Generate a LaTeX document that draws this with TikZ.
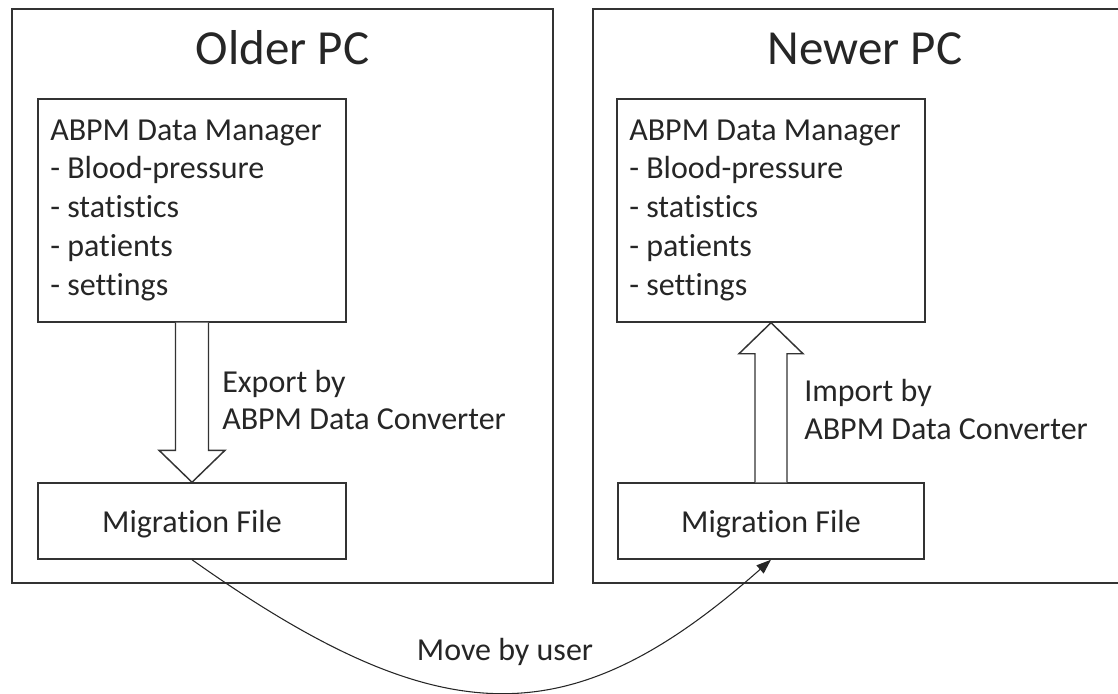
\documentclass[tikz,border=0pt]{standalone}
\usepackage{fontspec}
\setmainfont{Carlito}[Ligatures={NoCommon}]
\usetikzlibrary{fit,calc,arrows.meta}
\begin{document}
\begin{tikzpicture}[x=0.75pt,y=-0.75pt,
  frame/.style={draw=black!80, line width=1.1pt, inner sep=0pt},
  body/.style={font=\fontsize{24}{29}\selectfont, text=black!85, inner sep=0pt, anchor=base west},
  ctext/.style={body, anchor=base},
  title/.style={font=\fontsize{36.75}{44}\selectfont, text=black!85, inner sep=0pt, anchor=base},
  blockarrow/.style={draw=black!80, line width=1.1pt, fill=white, line join=miter},
  curve/.style={draw=black!85, line width=0.8pt, -{Triangle[length=11pt,width=8pt]}}]
\useasboundingbox (0,0) rectangle (1118,693);
\clip (0,0) rectangle (1118,693);

% outer boxes
\node[frame, fit={(12,9) (553,583)}] (oldpc) {};
\node[frame, fit={(593,9) (1137,583)}] (newpc) {};
\node[title] (oldtitle) at (282.5,64) {Older PC};
\node[title] (newtitle) at (865,64) {Newer PC};

% data manager boxes
\node[frame, fit={(38,99) (346,322)}] (dmL) {};
\node[frame, fit={(617,99) (925,322)}] (dmR) {};
\foreach \t [count=\i] in {ABPM Data Manager, - Blood-pressure, - statistics, - patients, - settings} {
  \node[body] (dmLt\i) at (50,{140+38.8*(\i-1)}) {\t};
  \node[body] (dmRt\i) at (629,{140+38.8*(\i-1)}) {\t};
}

% migration file boxes
\node[frame, fit={(38,483) (346,559)}] (mfL) {};
\node[frame, fit={(618,483) (924,559)}] (mfR) {};
\node[ctext] (mfLt) at (192,532) {Migration File};
\node[ctext] (mfRt) at (771,532) {Migration File};

% block arrows
\draw[blockarrow] ($(dmL.south)+(-16.5,0)$) -- ($(mfL.north)+(-16.5,-32)$) -- ($(mfL.north)+(-33,-32)$)
  -- (mfL.north) -- ($(mfL.north)+(33,-32)$) -- ($(mfL.north)+(16.5,-32)$) -- ($(dmL.south)+(16.5,0)$);
\draw[blockarrow] ($(mfR.north)+(-16,0)$) -- ($(dmR.south)+(-16,31)$) -- ($(dmR.south)+(-32,31)$)
  -- (dmR.south) -- ($(dmR.south)+(32,31)$) -- ($(dmR.south)+(16,31)$) -- ($(mfR.north)+(16,0)$);

% arrow labels
\node[body] (ex1) at (222,392) {Export by};
\node[body] (ex2) at (222,429) {ABPM Data Converter};
\node[body] (im1) at (804,401) {Import by};
\node[body] (im2) at (804,439) {ABPM Data Converter};

% move curve
\draw[curve] (mfL.south) .. controls +(250,177) and +(-200,177) .. (mfR.south);
\node[ctext] (move) at (505,660) {Move by user};
\end{tikzpicture}
\end{document}
